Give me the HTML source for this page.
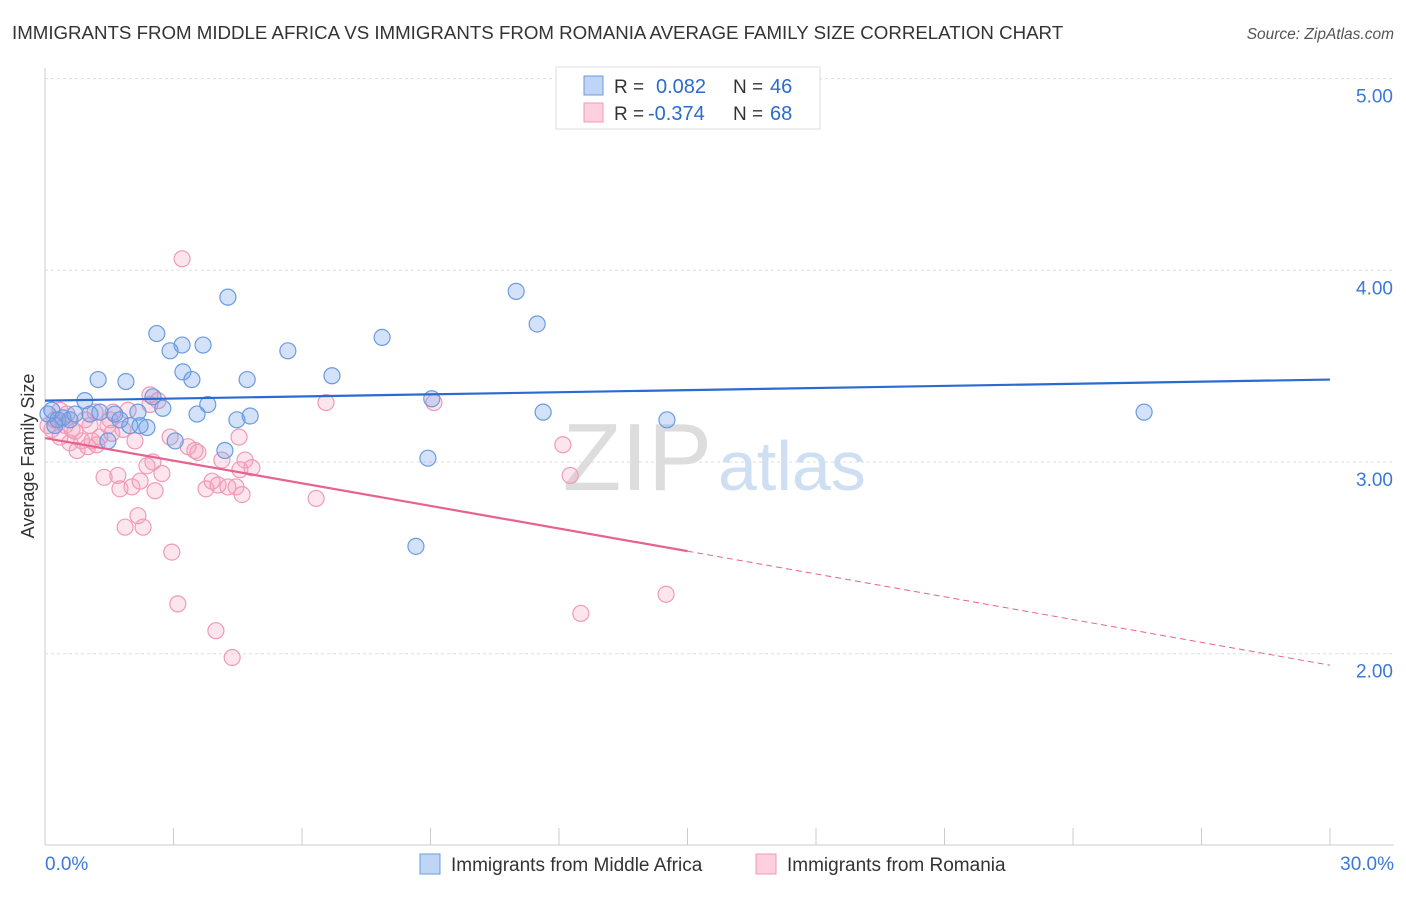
<!DOCTYPE html>
<html><head><meta charset="utf-8"><style>
body{margin:0;background:#fff;font-family:"Liberation Sans",sans-serif;}
svg text{font-family:"Liberation Sans",sans-serif;}
</style></head><body>
<svg id="chart" width="1406" height="892" viewBox="0 0 1406 892">
<text x="12" y="39" font-size="18.7" fill="#333">IMMIGRANTS FROM MIDDLE AFRICA VS IMMIGRANTS FROM ROMANIA AVERAGE FAMILY SIZE CORRELATION CHART</text>
<text x="1394" y="39" font-size="15.5" fill="#555" font-style="italic" text-anchor="end">Source: ZipAtlas.com</text>
<g id="grid"></g>
<g id="axes"></g>
<text x="712" y="490" font-size="96" fill="#ddd" text-anchor="end" font-family="Liberation Serif">ZIP</text>
<text x="718" y="490" font-size="70" fill="#cfdff3">atlas</text>
<g id="pts"></g>
<g id="lines"></g>
<text transform="translate(34,456) rotate(-90)" font-size="18" fill="#333" text-anchor="middle">Average Family Size</text>
<g>
<rect x="556" y="67" width="264" height="62" fill="#fff" stroke="#ddd"/>
<rect x="584" y="76" width="19" height="19" fill="#c0d4f5" stroke="#6a9be0"/>
<rect x="584" y="103" width="19" height="19" fill="#fcd0de" stroke="#f09ab8"/>
<text x="614" y="93" font-size="19" fill="#333">R =</text>
<text x="656" y="93" font-size="20" fill="#2a6bd0">0.082</text>
<text x="733" y="93" font-size="19" fill="#333">N =</text>
<text x="770" y="93" font-size="20" fill="#2a6bd0">46</text>
<text x="614" y="120" font-size="19" fill="#333">R =</text>
<text x="648" y="120" font-size="20" fill="#2a6bd0">-0.374</text>
<text x="733" y="120" font-size="19" fill="#333">N =</text>
<text x="770" y="120" font-size="20" fill="#2a6bd0">68</text>
</g>
<g>
<rect x="420" y="854" width="20" height="20" fill="#c0d4f5" stroke="#6a9be0"/>
<text x="451" y="871" font-size="19" fill="#333">Immigrants from Middle Africa</text>
<rect x="756" y="854" width="20" height="20" fill="#fcd0de" stroke="#f09ab8"/>
<text x="787" y="871" font-size="19" fill="#333">Immigrants from Romania</text>
</g>
</svg>
<script>
const yTicks=[2,3,4,5];
const yTickLabels=["2.00","3.00","4.00","5.00"];
const xTickLabels=["0.0%","30.0%"];
const blueX=[0.07,0.16,0.23,0.30,0.42,0.58,0.70,0.93,1.05,1.24,1.28,1.47,1.63,1.75,1.89,1.98,2.17,2.22,2.38,2.52,2.61,2.75,2.92,3.04,3.20,3.22,3.43,3.55,3.69,3.80,4.27,4.20,4.48,4.72,4.79,5.67,6.70,7.87,8.66,8.94,9.03,11.00,11.49,11.63,14.52,25.66];
const blueY=[3.25,3.27,3.19,3.22,3.23,3.22,3.25,3.32,3.25,3.43,3.26,3.11,3.25,3.22,3.42,3.19,3.26,3.19,3.18,3.34,3.67,3.28,3.58,3.11,3.61,3.47,3.43,3.25,3.61,3.30,3.86,3.06,3.22,3.43,3.24,3.58,3.45,3.65,2.56,3.02,3.33,3.89,3.72,3.26,3.22,3.26];
const pinkX=[0.07,0.16,0.23,0.35,0.47,0.58,0.63,0.75,0.86,1.00,1.10,1.17,1.28,1.38,1.47,1.52,1.59,1.70,1.75,1.87,1.94,2.03,2.10,2.17,2.22,2.29,2.38,2.45,2.52,2.57,2.64,2.73,2.92,2.96,3.10,3.20,3.34,3.50,3.57,3.76,3.90,3.99,4.04,4.13,4.27,4.37,4.46,4.53,4.60,4.67,4.83,6.33,6.56,9.08,12.09,12.26,12.51,14.50,0.35,0.93,0.51,1.82,1.05,2.45,1.21,0.70,1.56,4.55];
const pinkY=[3.19,3.17,3.22,3.13,3.19,3.10,3.17,3.06,3.11,3.08,3.11,3.26,3.13,2.92,3.19,3.22,3.26,2.93,2.86,2.66,3.27,2.87,3.11,2.72,2.90,2.66,2.98,3.35,3.00,2.85,3.32,2.94,3.13,2.53,2.26,4.06,3.08,3.06,3.05,2.86,2.90,2.12,2.88,3.01,2.87,1.98,2.87,3.13,2.83,3.01,2.97,2.81,3.31,3.31,3.09,2.93,2.21,2.31,3.27,3.22,3.25,3.17,3.19,3.30,3.09,3.16,3.15,2.96];
const blueTrend=[3.32,3.43];
const pinkTrend=[3.125,2.535,1.94];
const NS="http://www.w3.org/2000/svg";
const X=v=>45+v/30*1285;
const Y=v=>462-(v-3)*191.7;
function mk(tag,attrs,parent){const e=document.createElementNS(NS,tag);for(const k in attrs)e.setAttribute(k,attrs[k]);document.getElementById(parent).appendChild(e);return e;}
yTicks.forEach((t,i)=>{
 const l=mk('line',{x1:45,x2:1394,y1:Y(t),y2:Y(t),stroke:'#ddd','stroke-dasharray':'3,3'},'grid');
 
 
 const tx=mk('text',{x:1393,y:Y(t)+24,'font-size':19,fill:'#3b78d8','text-anchor':'end'},'axes');
 tx.textContent=yTickLabels[i];
 
 
});
mk('line',{x1:45,x2:45,y1:68,y2:845,stroke:'#ccc'},'axes');
mk('line',{x1:45,x2:1394,y1:845,y2:845,stroke:'#ccc'},'axes');
for(let i=0;i<=10;i++){const t=mk('line',{x1:X(i*3),x2:X(i*3),y1:828,y2:845,stroke:'#ccc'},'axes');

}
[[0,'start',45],[1,'end',1394]].forEach(([i,a,x])=>{const t=mk('text',{x:x,y:870,'font-size':19,fill:'#3b78d8','text-anchor':a},'axes');t.textContent=xTickLabels[i];

});
function pts(xs,ys,fill,stroke,name){xs.forEach((x,i)=>{const c=mk('circle',{cx:X(x),cy:Y(ys[i]),r:8,fill:fill,stroke:stroke,'stroke-width':1.2},'pts');

});}
pts(pinkX,pinkY,'rgba(245,160,190,0.28)','#f09ab8','point-romania');
pts(blueX,blueY,'rgba(110,160,235,0.3)','#6a9be0','point-middle-africa');
let b=mk('line',{x1:X(0),y1:Y(blueTrend[0]),x2:X(30),y2:Y(blueTrend[1]),stroke:'#2a6bd0','stroke-width':2.2},'lines');


let p=mk('line',{x1:X(0),y1:Y(pinkTrend[0]),x2:X(15),y2:Y(pinkTrend[1]),stroke:'#e8628f','stroke-width':2.2},'lines');


let pd=mk('line',{x1:X(15),y1:Y(pinkTrend[1]),x2:X(30),y2:Y(pinkTrend[2]),stroke:'#e8628f','stroke-width':1,'stroke-dasharray':'6,4'},'lines');


</script>
</body></html>
